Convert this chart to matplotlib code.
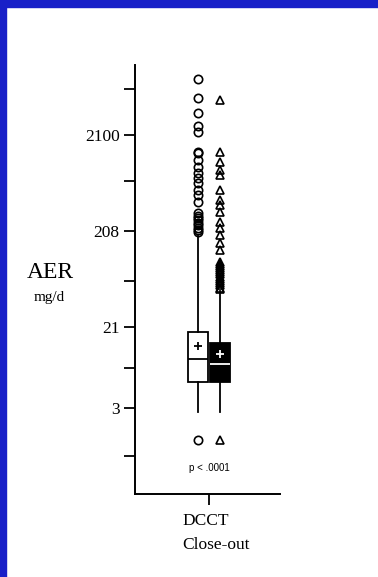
#!/usr/bin/env python3
"""AER (mg/d) at DCCT close-out: box plots on a log axis."""

import matplotlib
matplotlib.use("Agg")
import matplotlib.pyplot as plt  # noqa: E402
from matplotlib.patches import Rectangle  # noqa: E402

# box summaries (mg/d)
GROUPS = ["conventional", "intensive"]
MEDIANS = [9.7, 8.6]
Q1S = [5.6, 5.6]
Q3S = [18.6, 14.3]
MEANS = [13.3, 11.0]
WHISLO = [2.7, 2.7]
WHISHI = [185.0, 50.0]

CIRCLE_OUTLIERS = [8040, 5090, 3555, 2605, 2255, 1396, 1362, 1151, 973, 843,
                   748, 663, 561, 498, 421, 323, 300, 286, 270, 254, 240,
                   225, 215, 205, 1.4]
TRIANGLE_OUTLIERS = [4855, 1396, 1097, 906, 803, 561, 442, 392, 331, 261,
                     225, 191, 157, 133, 100, 95, 90, 86, 82, 78, 74, 70,
                     66, 63, 60, 57, 54, 52, 1.4]

LABELED_TICKS = [3, 21, 208, 2100]
TICK_LABELS = ["3", "21", "208", "2100"]
UNLABELED_TICKS = [0.95, 7.9, 63, 690, 6300]

BLUE = "#1820c8"
SERIF = ["Liberation Serif", "DejaVu Serif"]


def _box(ax, i, pos, marker, face, inner):
    stats = [{
        "med": MEDIANS[i], "q1": Q1S[i], "q3": Q3S[i], "mean": MEANS[i],
        "whislo": WHISLO[i], "whishi": WHISHI[i],
        "fliers": CIRCLE_OUTLIERS if marker == "o" else TRIANGLE_OUTLIERS,
    }]
    ax.bxp(stats, positions=[pos], widths=0.9, showmeans=True, showcaps=False,
           patch_artist=True,
           boxprops=dict(facecolor=face, edgecolor="black", linewidth=1.3),
           medianprops=dict(color=inner, linewidth=1.3),
           whiskerprops=dict(color="black", linewidth=1.3),
           meanprops=dict(marker="+", markeredgecolor=inner, markersize=6,
                          markeredgewidth=1.3),
           flierprops=dict(marker=marker, markerfacecolor="none",
                           markeredgecolor="black", markersize=6,
                           markeredgewidth=1.2))


def main():
    fig = plt.figure(figsize=(3.78, 5.77), dpi=100)
    fig.patch.set_facecolor("white")
    # blue frame on the left and top edges
    fig.add_artist(Rectangle((0, 0), 6 / 378, 1, transform=fig.transFigure,
                             color=BLUE, zorder=10))
    fig.add_artist(Rectangle((0, 1 - 7 / 577), 1, 7 / 577,
                             transform=fig.transFigure, color=BLUE, zorder=10))

    ax = fig.add_axes([135 / 378, 1 - 494 / 577, 145 / 378, 429 / 577])
    _box(ax, 0, 1, "o", "white", "black")
    _box(ax, 1, 2, "^", "black", "white")

    ax.set_yscale("log")
    ax.set_ylim(0.382, 11250)
    ax.set_xlim(-1.86, 4.73)
    ax.yaxis.set_minor_locator(matplotlib.ticker.NullLocator())
    ax.set_yticks(LABELED_TICKS + UNLABELED_TICKS)
    ax.set_yticklabels(TICK_LABELS + [""] * len(UNLABELED_TICKS),
                       family=SERIF, fontsize=12.5)
    ax.set_xticks([1.5])
    ax.set_xticklabels([""])
    ax.tick_params(axis="both", direction="out", length=8, width=1.3,
                   pad=3)
    for side in ("top", "right"):
        ax.spines[side].set_visible(False)
    for side in ("left", "bottom"):
        ax.spines[side].set_linewidth(1.4)

    ax.text(1.5, 0.71, "p < .0001", ha="center", va="center", fontsize=7,
            family=["Liberation Sans", "DejaVu Sans"])

    fig.text(182 / 378, 1 - 521 / 577, "DCCT", ha="left", va="center",
             family=SERIF, fontsize=12.5)
    fig.text(182 / 378, 1 - 545 / 577, "Close-out", ha="left", va="center",
             family=SERIF, fontsize=12.5)
    fig.text(50 / 378, 1 - 272 / 577, "AER", ha="center", va="center",
             family=SERIF, fontsize=17)
    fig.text(49 / 378, 1 - 297 / 577, "mg/d", ha="center", va="center",
             family=SERIF, fontsize=11)

    fig.savefig("out.png", dpi=100)
    plt.close(fig)


if __name__ == "__main__":
    main()
